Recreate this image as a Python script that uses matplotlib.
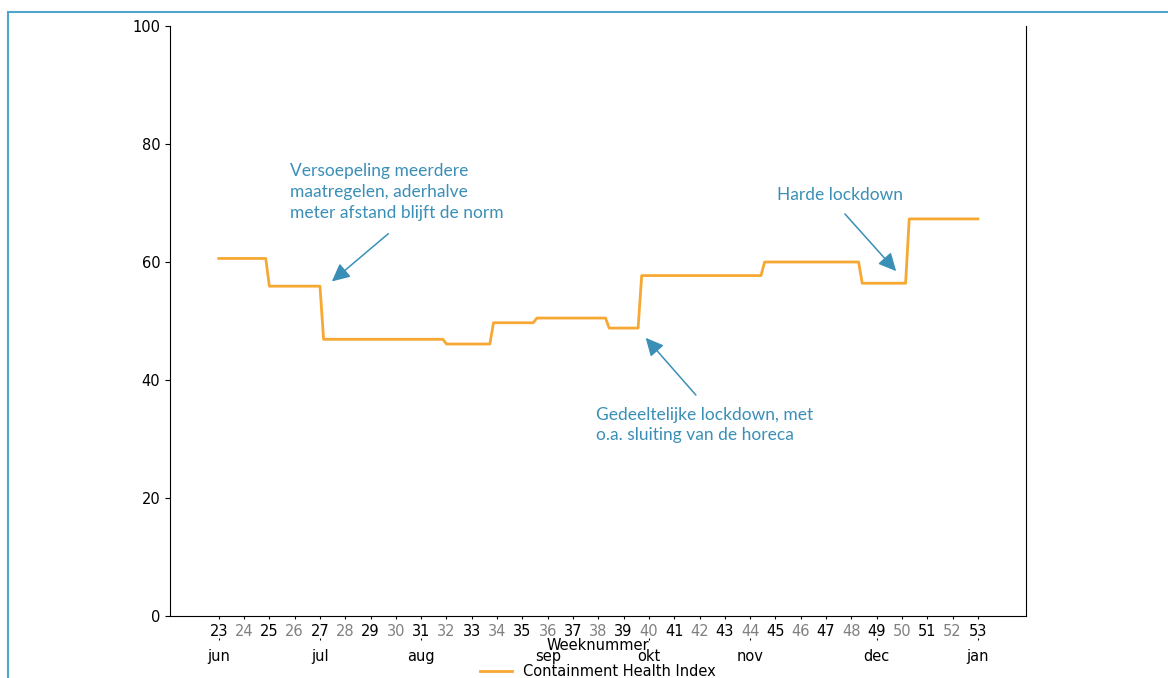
import numpy as np
import matplotlib
matplotlib.use("Agg")
import matplotlib.pyplot as plt
from matplotlib.patches import Rectangle

plt.rcParams["font.size"] = 10.5

# Containment Health Index, stepwise levels (value, number of days) starting week 23
step_values = [60.6, 55.9, 46.9, 46.1, 49.7, 50.5, 48.8, 57.7, 60.0, 56.4, 67.3]
step_days = [14, 15, 34, 13, 12, 20, 9, 34, 27, 13, 20]

week_numbers = list(range(23, 54))
month_weeks = [23, 27, 31, 36, 40, 44, 49, 53]
month_labels = ["jun", "jul", "aug", "sep", "okt", "nov", "dec", "jan"]

# annotations: text, text position (day, value), arrow tip (day, value), arrow tail, alignment
notes = [
    ("Versoepeling meerdere\nmaatregelen, aderhalve\nmeter afstand blijft de norm", (19.6, 76.8), (30.7, 56.4), (47.5, 65.1), "left"),
    ("Gedeeltelijke lockdown, met\no.a. sluiting van de horeca", (104.4, 35.5), (117.6, 47.5), (132.5, 37.1), "left"),
    ("Harde lockdown", (171.8, 72.7), (187.9, 58.1), (172.7, 68.5), "center"),
]

index_values = np.repeat(step_values, step_days)
days = np.arange(len(index_values))

orange = "#f7a833"
blue = "#3a8fb7"

fig = plt.figure(figsize=(11.68, 6.78), dpi=100)
ax = fig.add_axes([0.1455, 0.0914, 0.8784 - 0.1455, 0.9617 - 0.0914])

ax.plot(days, index_values, color=orange, linewidth=2, label="Containment Health Index")

ax.set_xlim(-13.5, 223.3)
ax.set_ylim(0, 100)
ax.set_yticks([0, 20, 40, 60, 80, 100])
ax.spines["top"].set_visible(False)

# week ticks, even weeks in grey
week_pos = [(w - 23) * 7 for w in week_numbers]
ax.set_xticks(week_pos)
ax.set_xticklabels([str(w) for w in week_numbers])
ax.tick_params(axis="x", length=2, pad=4)
for w, lab in zip(week_numbers, ax.get_xticklabels()):
    if w % 2 == 0:
        lab.set_color("grey")
ax.set_xlabel("Weeknummer", labelpad=-1)

# months on a second axis below the weeks
sec = ax.secondary_xaxis(-0.038)
sec.set_xticks([(w - 23) * 7 for w in month_weeks])
sec.set_xticklabels(month_labels)
sec.spines["bottom"].set_visible(False)
sec.tick_params(axis="x", length=1.5, pad=6)

for text, tpos, tip, tail, ha in notes:
    ax.text(tpos[0], tpos[1], text, color=blue, fontsize=12.5, family="Lato",
            ha=ha, va="top", linespacing=1.38)
    ax.annotate("", xy=tip, xytext=tail,
                arrowprops=dict(arrowstyle="-|>,head_length=0.45,head_width=0.22",
                                color=blue, lw=1.1, mutation_scale=24))

ax.legend(loc="center", bbox_to_anchor=(0.5, -0.094), frameon=False,
          handlelength=2.2, borderaxespad=0)

fig.patches.append(Rectangle((8 / 1168, -0.1), 1.2, (678 - 12) / 678 + 0.1,
                             transform=fig.transFigure, fill=False,
                             edgecolor="#4ea6cc", linewidth=1.5))

plt.savefig("out.png", dpi=100)
